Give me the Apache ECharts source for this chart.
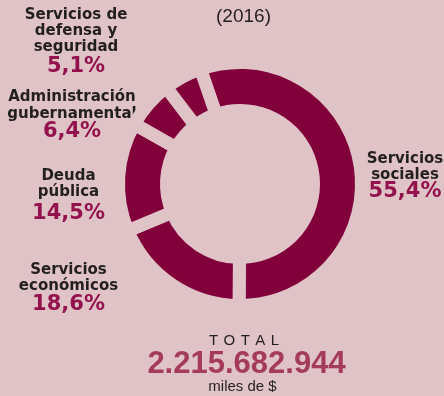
<!DOCTYPE html>
<html>
<head>
<meta charset="utf-8">
<script src="https://cdn.jsdelivr.net/npm/echarts@6/dist/echarts.min.js"></script>
<style>
  html, body { margin: 0; padding: 0; background: #e0c3c7; }
  #chart { width: 444px; height: 396px; }
</style>
</head>
<body>
<div id="chart"></div>
<script>
// Budget distribution by function (2016), share of total spending in %
const categories = [
  'Servicios\nsociales',
  'Servicios\neconómicos',
  'Deuda\npública',
  'Administración\ngubernamental',
  'Servicios de\ndefensa y\nseguridad'
];
const shares = [55.4, 18.6, 14.5, 6.4, 5.1];
const yearLabel = '(2016)';
const totalLabel = 'TOTAL';
const totalValue = '2.215.682.944';
const totalUnit = 'miles de $';

// Colours
const BG = '#e0c3c7';
const RING = '#82003a';
const PCT = '#93124d';
const TOTAL_NUM = '#a53b5b';
const INK = '#231f20';

// Where each category label block sits: [centre x, first line y, percent y]
const labelSpots = [
  [405, 158.8, 192],
  [68.5, 270, 305],
  [68.5, 176, 213.3],
  [72, 97.5, 131.5],
  [76, 15, 66.2]
];

const NAME_FONT = 'bold 15px "DejaVu Sans"';
const PCT_FONT = 'bold 21px "DejaVu Sans"';
const LINE_H = 16.2;

const fmtPct = v => v.toFixed(1).replace('.', ',') + '%';

const graphics = [];
categories.forEach((name, i) => {
  const [cx, y1, py] = labelSpots[i];
  graphics.push({
    type: 'text', x: cx, y: y1 - LINE_H / 2, silent: true,
    style: { text: name, font: NAME_FONT, fill: INK, align: 'center', verticalAlign: 'top', lineHeight: LINE_H }
  });
  graphics.push({
    type: 'text', x: cx, y: py, silent: true,
    style: { text: fmtPct(shares[i]), font: PCT_FONT, fill: PCT, align: 'center', verticalAlign: 'middle' }
  });
});

graphics.push(
  { type: 'text', x: 243.5, y: 16.5, silent: true,
    style: { text: yearLabel, font: '19px "Liberation Sans"', fill: INK, align: 'center', verticalAlign: 'middle' } },
  { type: 'text', x: 244, y: 340.5, silent: true,
    style: { text: totalLabel.split('').join(' \u200A'), font: '15px "Liberation Sans"', fill: INK, align: 'center', verticalAlign: 'middle' } },
  { type: 'text', x: 246.5, y: 364.5, silent: true,
    style: { text: totalValue, font: 'bold 31px "Liberation Sans"', fill: TOTAL_NUM, align: 'center', verticalAlign: 'middle' } },
  { type: 'text', x: 242.5, y: 386.5, silent: true,
    style: { text: totalUnit, font: '15px "Liberation Sans"', fill: INK, align: 'center', verticalAlign: 'middle' } }
);

const chart = echarts.init(document.getElementById('chart'), null, { renderer: 'canvas' });
chart.setOption({
  backgroundColor: BG,
  animation: false,
  graphic: graphics,
  series: [{
    type: 'pie',
    center: [240, 184],
    // the border (drawn in background colour) trims 6.5px off every edge,
    // leaving a ring from 80 to 115 with 13px gaps between slices
    radius: [73.5, 121.5],
    startAngle: 109,
    clockwise: true,
    silent: true,
    label: { show: false },
    labelLine: { show: false },
    itemStyle: { color: RING, borderColor: BG, borderWidth: 13 },
    data: categories.map((name, i) => ({ name, value: shares[i] }))
  }]
});
</script>
</body>
</html>
